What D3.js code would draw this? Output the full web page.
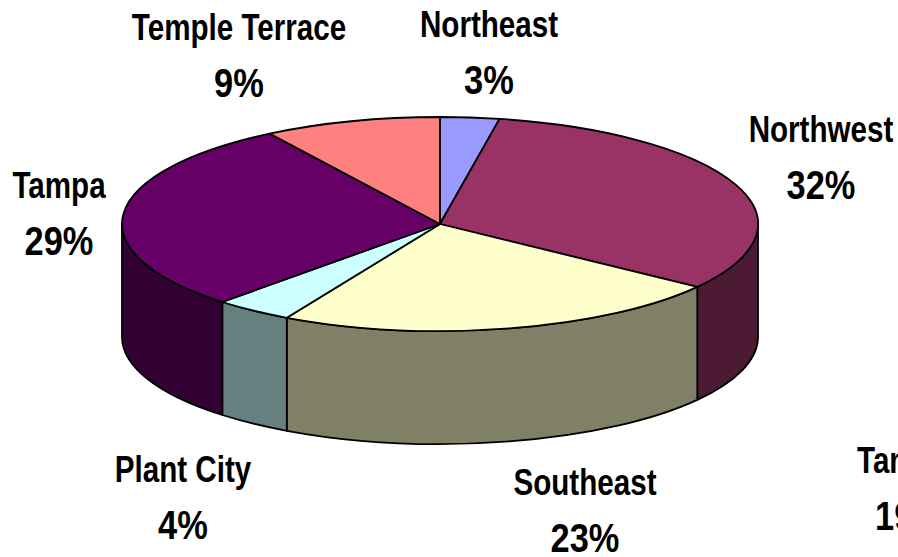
<!DOCTYPE html>
<html>
<head>
<meta charset="utf-8">
<script src="https://cdn.jsdelivr.net/npm/d3@7"></script>
<style>
  html, body { margin: 0; padding: 0; background: #fff; overflow: hidden; }
  text { font-family: "Liberation Sans", Arial, "DejaVu Sans", sans-serif; font-weight: bold; fill: #000; }
</style>
</head>
<body>
<svg id="chart" width="898" height="557"></svg>
<script>
// Share by area, clockwise from 12 o'clock
const categories = ["Northeast", "Northwest", "Southeast", "Plant City", "Tampa", "Temple Terrace"];
const values = [3, 32, 23, 4, 29, 9];
const topColors = ["#9999FF", "#993366", "#FFFFCC", "#CCFFFF", "#660066", "#FF8080"];
// label anchor points (centre x, baseline of the name line)
const labelX = [489, 821, 585, 183, 59, 239];
const labelY = [37, 142, 495, 482, 198, 40];
// neighbouring label running off the right edge
const extraLabel = { name: "Tampa", value: 19, x: 857, y: 473 };

const W = 898, H = 557;
const cx = 440, cy = 224, rx = 318, ry = 107, depth = 113;
const lineGap = 56;
const nameSize = 37, pctSize = 41;
const nameSquash = 0.8, pctSquash = 0.84;

const svg = d3.select("#chart");

const pie = d3.pie().sort(null).value(d => d.value).startAngle(0).endAngle(2 * Math.PI);
const data = categories.map((c, i) => ({ name: c, value: values[i], color: topColors[i], lx: labelX[i], ly: labelY[i] }));
const arcs = pie(data);

const pt = (a, dy = 0) => [cx + rx * Math.sin(a), cy - ry * Math.cos(a) + dy];

// side wall colours are the top colours at half brightness
const darken = c => { const k = d3.rgb(c); return d3.rgb(k.r * 0.5, k.g * 0.5, k.b * 0.5).formatHex(); };

const gSide = svg.append("g");
const gTop = svg.append("g");

// front-facing side walls (visible between 3 and 9 o'clock)
arcs.forEach(a => {
  const s = Math.max(a.startAngle, Math.PI / 2);
  const e = Math.min(a.endAngle, 3 * Math.PI / 2);
  if (e <= s) return;
  const p0 = pt(s), p1 = pt(e), q1 = pt(e, depth), q0 = pt(s, depth);
  const d = `M${p0}A${rx},${ry} 0 0 1 ${p1}L${q1}A${rx},${ry} 0 0 0 ${q0}Z`;
  gSide.append("path")
    .attr("d", d)
    .attr("fill", darken(a.data.color))
    .attr("stroke", "#000")
    .attr("stroke-width", 1.8)
    .attr("stroke-linejoin", "round");
});

// top faces
arcs.forEach(a => {
  const p0 = pt(a.startAngle), p1 = pt(a.endAngle);
  const large = (a.endAngle - a.startAngle) > Math.PI ? 1 : 0;
  const d = `M${cx},${cy}L${p0}A${rx},${ry} 0 ${large} 1 ${p1}Z`;
  gTop.append("path")
    .attr("d", d)
    .attr("fill", a.data.color)
    .attr("stroke", "#000")
    .attr("stroke-width", 1.8)
    .attr("stroke-linejoin", "round");
});

// labels: condensed bold type, name above percentage
const gLab = svg.append("g");
function addText(x, y, str, size, squash, anchor) {
  gLab.append("text")
    .attr("transform", `translate(${x},${y}) scale(${squash},1)`)
    .attr("text-anchor", anchor)
    .attr("font-size", size)
    .text(str);
}
data.forEach(d => {
  addText(d.lx, d.ly, d.name, nameSize, nameSquash, "middle");
  addText(d.lx, d.ly + lineGap + 1, d.value + "%", pctSize, pctSquash, "middle");
});
addText(extraLabel.x, extraLabel.y, extraLabel.name, nameSize, nameSquash, "start");
addText(extraLabel.x + 18, extraLabel.y + 57, extraLabel.value + "%", pctSize, pctSquash, "start");
</script>
</body>
</html>
